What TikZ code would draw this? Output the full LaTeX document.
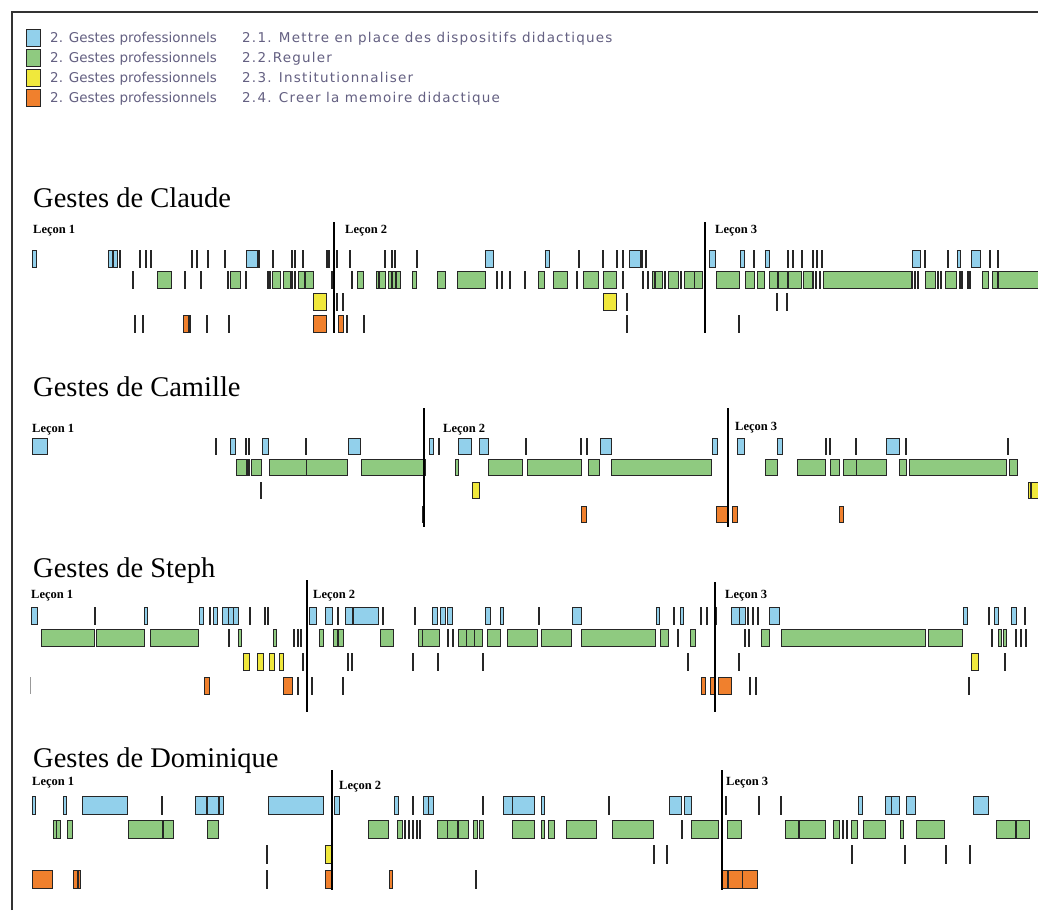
\documentclass[tikz,border=0pt]{standalone}
\usepackage{fontspec}
\newfontfamily\legfont{DejaVu Sans}
\newfontfamily\legfontsp[LetterSpace=9]{DejaVu Sans}
\newfontfamily\titfont{Liberation Serif}
\definecolor{cB}{RGB}{146,208,235}
\definecolor{cG}{RGB}{143,202,128}
\definecolor{cY}{RGB}{240,232,60}
\definecolor{cO}{RGB}{240,128,45}
\definecolor{legtxt}{RGB}{100,96,130}
\definecolor{tk}{RGB}{40,40,40}
\tikzset{
  bar/.style={draw=black!85, line width=1pt},
  lline/.style={draw=black, line width=1.5pt},
  title/.style={anchor=base west, inner sep=0pt, font=\titfont\fontsize{28.5}{32}\selectfont},
  lecon/.style={anchor=base west, inner sep=0pt, font=\titfont\fontsize{12.5}{14}\selectfont\bfseries},
  legtext/.style={anchor=base west, inner sep=0pt, text=legtxt, font=\legfont\fontsize{13.5}{15}\selectfont},
  legtextb/.style={anchor=base west, inner sep=0pt, text=legtxt, font=\legfontsp\fontsize{13.5}{15}\selectfont},
  swatch/.style={draw=black!85, line width=1pt}
}
\newcommand\boxes[3]{\foreach \a/\b in {#3} \draw[bar,fill=#2] (\a,#1) rectangle (\b,#1+\rh);}
\newcommand\ticks[2]{\foreach \a in {#2} \draw[bar,fill=tk] (\a-0.8,#1) rectangle (\a+0.8,#1+\rh);}
\begin{document}
\begin{tikzpicture}[x=1pt,y=-1pt]
\useasboundingbox (0,0) rectangle (1038,910);
\fill[white] (0,0) rectangle (1038,910);
% frame
\draw[black!80, line width=1.6pt] (12,910) -- (12,12) -- (1038,12);
% legend
\foreach \c/\t/\s [count=\i from 0] in {cB/2.1. Mettre en place des dispositifs didactiques/l1, cG/2.2.Reguler/l2, cY/2.3. Institutionnaliser/l3, cO/2.4. Creer la memoire didactique/l4}{
  \draw[swatch, fill=\c] (26,29+20*\i) rectangle (40,46+20*\i);
  \node[legtext] (\s a) at (50,42+20*\i) {2. Gestes professionnels};
  \node[legtextb] (\s b) at (242,42+20*\i) {\t};
}
% ===== Claude =====
\node[title] (tClaude) at (33,207) {Gestes de Claude};
\node[lecon] (c1) at (33,233) {Leçon 1};
\node[lecon] (c2) at (345,233) {Leçon 2};
\node[lecon] (c3) at (715,233) {Leçon 3};
\def\rh{17}
\boxes{250}{cB}{32/36, 108/112, 113/117, 246/257, 485/493, 545/549, 629/640, 709/715, 740/744, 765/769, 912/920, 957/960, 971/980}
\ticks{250}{120, 140, 146, 151, 192, 197, 208, 225, 259, 273, 292, 295, 303, 327, 329, 337, 350, 385, 392, 395, 417, 579, 603, 617, 623, 642, 646, 754, 788, 793, 802, 813, 817, 822, 925, 948, 990, 998}
\boxes{271}{cG}{157/171, 230/240, 272/280, 283/290, 298/304, 305/313, 357/363, 376/385, 388/400, 412/416, 437/445, 457/485, 538/544, 553/567, 583/598, 603/616, 652/662, 668/678, 684/694, 694/702, 716/739, 745/754, 757/764, 769/777, 778/787, 788/801, 803/812, 823/912, 925/935, 945/956, 982/988, 992/997, 998/1038}
\ticks{271}{133, 185, 201, 228, 246, 268, 270, 292, 295, 332, 352, 379, 392, 396, 497, 502, 510, 525, 577, 623, 643, 648, 655, 665, 681, 813, 816, 820, 912, 915, 918, 938, 941, 960, 962, 968, 970}
\boxes{293}{cY}{313/326, 603/616}
\ticks{293}{337, 343, 627, 777, 787}
\boxes{315}{cO}{183/188, 313/326, 338/343}
\ticks{315}{135, 143, 190, 207, 229, 347, 364, 627, 739}
\draw[lline] (334,222) -- (334,333);
\draw[lline] (705,222) -- (705,333);
% ===== Camille =====
\node[title] (tCamille) at (33,396) {Gestes de Camille};
\node[lecon] (m1) at (32,432) {Leçon 1};
\node[lecon] (m2) at (443,432) {Leçon 2};
\node[lecon] (m3) at (735,430) {Leçon 3};
\def\rh{16}
\boxes{438}{cB}{32/47, 230/235, 262/268, 348/360, 429/433, 458/471, 479/488, 600/611, 712/717, 737/744, 777/782, 886/899}
\ticks{438}{216, 246, 249, 306, 439, 526, 581, 587, 826, 830, 856, 906, 1008}
\boxes{459}{cG}{236/246, 251/261, 269/306, 306/347, 361/425, 455/458, 488/522, 527/581, 588/599, 611/711, 765/777, 797/825, 830/839, 843/856, 856/886, 899/906, 909/1006, 1009/1017}
\ticks{459}{247, 249}
\boxes{482}{cY}{472/479, 1028/1040}
\ticks{482}{261, 1031}
\boxes{506}{cO}{581/586, 716/727, 732/737, 839/843}
\ticks{506}{423}
\draw[lline] (424,408) -- (424,527);
\draw[lline] (728,408) -- (728,527);
% ===== Steph =====
\node[title] (tSteph) at (33,577) {Gestes de Steph};
\node[lecon] (s1) at (31,598) {Leçon 1};
\node[lecon] (s2) at (313,598) {Leçon 2};
\node[lecon] (s3) at (725,598) {Leçon 3};
\def\rh{17}
\boxes{607}{cB}{31/37, 144/147, 199/203, 213/217, 222/228, 228/233, 233/238, 309/316, 325/332, 345/352, 353/378, 432/437, 440/445, 447/452, 485/490, 500/503, 572/581, 656/659, 680/683, 731/739, 739/745, 769/779, 963/967, 994/998, 1011/1016}
\ticks{607}{95, 210, 250, 265, 268, 338, 383, 415, 539, 674, 701, 707, 716, 748, 753, 758, 989, 1025}
\boxes{629}{cG}{41/94, 96/144, 150/198, 238/241, 273/276, 319/323, 333/337, 338/343, 380/393, 418/422, 422/439, 458/466, 466/474, 474/482, 487/500, 507/537, 541/571, 581/655, 660/668, 690/695, 761/769, 781/925, 928/962, 998/1001, 1003/1006}
\ticks{629}{229, 294, 298, 301, 448, 453, 678, 745, 749, 992, 1016, 1021, 1026}
\boxes{653}{cY}{243/249, 257/263, 269/274, 279/283, 971/978}
\ticks{653}{303, 348, 352, 413, 438, 483, 688, 739, 1005}
\boxes{677}{cO}{204/209, 283/292, 701/705, 710/715, 718/731}
\ticks{677}{298, 312, 343, 750, 756, 969}
\draw[black!40, line width=0.8pt] (30,677) -- (30,694);
\draw[lline] (307,580) -- (307,712);
\draw[lline] (715,582) -- (715,712);
% ===== Dominique =====
\node[title] (tDom) at (33,767) {Gestes de Dominique};
\node[lecon] (d1) at (32,785) {Leçon 1};
\node[lecon] (d2) at (339,789) {Leçon 2};
\node[lecon] (d3) at (726,785) {Leçon 3};
\def\rh{18}
\boxes{796}{cB}{32/35, 63/66, 82/127, 195/206, 207/218, 219/223, 268/323, 334/339, 394/398, 423/428, 428/433, 503/512, 512/534, 541/544, 669/681, 684/691, 858/862, 885/891, 891/899, 906/915, 973/988}
\ticks{796}{162, 413, 483, 609, 726, 759, 781}
\boxes{820}{cG}{53/56, 56/60, 67/72, 128/162, 163/173, 207/218, 368/388, 397/402, 437/447, 447/457, 458/468, 473/477, 479/483, 512/534, 541/544, 548/554, 566/596, 612/653, 691/718, 727/741, 785/825, 833/839, 851/857, 863/885, 900/903, 916/944, 996/1015, 1016/1029}
\ticks{820}{405, 409, 413, 417, 420, 682, 799, 843, 847}
\boxes{845}{cY}{325/332}
\ticks{845}{267, 654, 667, 852, 905, 946, 970}
\boxes{870}{cO}{32/52, 73/80, 325/332, 389/392, 722/727, 728/742, 742/757}
\ticks{870}{78, 267, 476}
\draw[lline] (332,770) -- (332,890);
\draw[lline] (722,770) -- (722,890);
\end{tikzpicture}
\end{document}
